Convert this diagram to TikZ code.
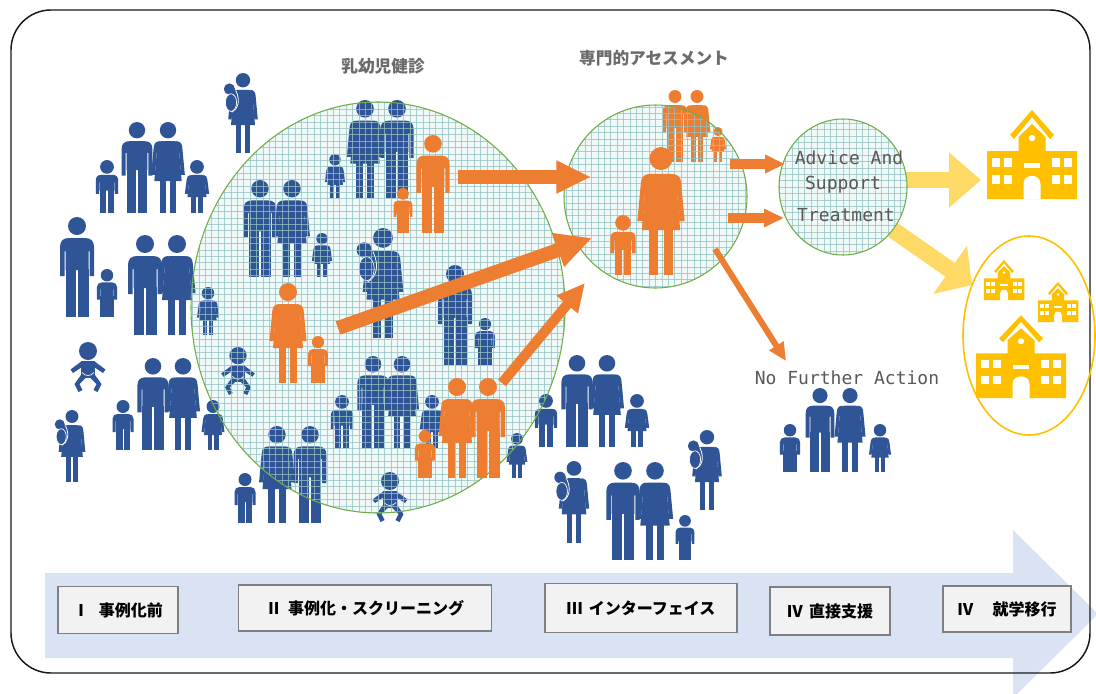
\documentclass[tikz,border=0pt]{standalone}
\usepackage{fontspec}
\usetikzlibrary{arrows.meta}
\newfontfamily\jpfont{Noto Sans CJK JP}
\newfontfamily\monofont{DejaVu Sans Mono}

\definecolor{figB}{HTML}{2F5597}
\definecolor{figO}{HTML}{ED7D31}
\definecolor{schoolY}{HTML}{FFC000}
\definecolor{arrowY}{HTML}{FFD966}
\definecolor{flowB}{HTML}{DAE3F3}
\definecolor{meshBg}{HTML}{F1F8F8}
\definecolor{meshLn}{HTML}{93C2C2}
\definecolor{ringG}{HTML}{70AD47}
\definecolor{boxF}{HTML}{F2F2F2}
\definecolor{boxD}{HTML}{7F7F7F}
\definecolor{txtG}{HTML}{595959}
\definecolor{lblG}{HTML}{6B6B6B}

% pictogram outlines: feet at the origin, 100 units tall, y grows downwards
\newcommand\manshape{%
  \fill (0,-91) circle (9);
  \fill (-17,-41) -- (-17,-70) .. controls (-17,-76) and (-14,-79) .. (-8,-79)
    -- (8,-79) .. controls (14,-79) and (17,-76) .. (17,-70) -- (17,-41)
    -- (12.5,-41) -- (12.5,-66) -- (11.5,-66) -- (11.5,-47) -- (-11.5,-47)
    -- (-11.5,-66) -- (-12.5,-66) -- (-12.5,-41) -- cycle;
  \fill (-11.5,-48) rectangle (-0.8,0);
  \fill (0.8,-48) rectangle (11.5,0);}
\newcommand\womanshape{%
  \fill (0,-91) circle (9);
  \fill (-7,-79) -- (7,-79) .. controls (10.5,-79) and (11.5,-77) .. (11.8,-73)
    -- (15,-35) -- (-15,-35) -- (-11.8,-73) .. controls (-11.5,-77) and (-10.5,-79) .. (-7,-79) -- cycle;
  \fill (-9,-79) .. controls (-14,-78.5) and (-15.5,-76) .. (-15.8,-71)
    -- (-18.5,-42) -- (-14.2,-42) -- (-12.4,-66) -- cycle;
  \fill (9,-79) .. controls (14,-78.5) and (15.5,-76) .. (15.8,-71)
    -- (18.5,-42) -- (14.2,-42) -- (12.4,-66) -- cycle;
  \fill (-9,-36) rectangle (-2,0);
  \fill (2,-36) rectangle (9,0);}
\newcommand\boyshape{%
  \fill (0,-87) circle (13);
  \fill (-21,-36) -- (-21,-62) .. controls (-21,-68) and (-17,-72) .. (-11,-72)
    -- (11,-72) .. controls (17,-72) and (21,-68) .. (21,-62) -- (21,-36)
    -- (15,-36) -- (15,-58) -- (14,-58) -- (14,-42) -- (-14,-42)
    -- (-14,-58) -- (-15,-58) -- (-15,-36) -- cycle;
  \fill (-14,-43) rectangle (-1,0);
  \fill (1,-43) rectangle (14,0);}
\newcommand\girlshape{%
  \fill (0,-87) circle (13);
  \fill (-9,-72) -- (9,-72) .. controls (13,-72) and (14,-70) .. (14.5,-65)
    -- (18,-30) -- (-18,-30) -- (-14.5,-65) .. controls (-14,-70) and (-13,-72) .. (-9,-72) -- cycle;
  \fill (-12,-72) .. controls (-17,-71) and (-19,-68) .. (-19.5,-63)
    -- (-23,-36) -- (-17.5,-36) -- (-15,-58) -- cycle;
  \fill (12,-72) .. controls (17,-71) and (19,-68) .. (19.5,-63)
    -- (23,-36) -- (17.5,-36) -- (15,-58) -- cycle;
  \fill (-11,-31) rectangle (-2,0);
  \fill (2,-31) rectangle (11,0);}
\newcommand\babyshape{%
  \fill (0,-82) circle (18);
  \fill (-14,-62) rectangle (14,-28);
  \fill (-12,-62) -- (-35,-45) -- (-30,-38) -- (-12,-50) -- cycle;
  \fill (12,-62) -- (35,-45) -- (30,-38) -- (12,-50) -- cycle;
  \fill (-14,-34) -- (-27,-16) -- (-19,0) -- (-11,-4) -- (-17,-16) -- (-5,-28) -- cycle;
  \fill (14,-34) -- (27,-16) -- (19,0) -- (11,-4) -- (17,-16) -- (5,-28) -- cycle;
  \draw[white, line width=0.5pt] (-12,-39) .. controls (-6,-31) and (6,-31) .. (12,-39);}
\newcommand\mombabyshape{%
  \womanshape
  \fill (-17,-80) circle (7);
  \filldraw[draw=white, line width=0.5pt] (-15,-63) ellipse (7 and 11);
  \draw[white, line width=0.6pt] (-9,-78) .. controls (-3,-66) and (-6,-55) .. (-14,-51);}
\newcommand\schoolshape{%
  \fill (-22,-64) -- (0,-89) -- (22,-64) -- (18,-60) -- (0,-82) -- (-18,-60) -- cycle;
  \fill (-45,0) -- (-45,-48) -- (-13.5,-48) -- (-13.5,-62) -- (0,-75) -- (13.5,-62)
    -- (13.5,-48) -- (45,-48) -- (45,0) -- cycle;
  \fill[white] (0,-61) circle (3.2);
  \fill[white] (-8,-36) rectangle (8,-31.5);
  \foreach \wx in {-40,-28,20,32}{%
    \fill[white] (\wx,-41) rectangle ++(8,9);
    \fill[white] (\wx,-24) rectangle ++(8,9);}
  \fill[white] (-8.5,0) -- (-8.5,-15) .. controls (-8.5,-26) and (8.5,-26) .. (8.5,-15) -- (8.5,0) -- cycle;}

% screening mesh inside an ellipse: centre x, centre y, radius x, radius y
\newcommand\meshgrid[4]{%
  \begin{scope}
    \clip (#1,#2) ellipse ({#3} and {#4});
    \foreach \gi in {-34,...,34}{%
      \draw[meshline] ({#1+6.4*\gi},{#2-#4-2}) -- ({#1+6.4*\gi},{#2+#4+2});
      \draw[meshline] ({#1-#3-2},{#2+6.4*\gi}) -- ({#1+#3+2},{#2+6.4*\gi});}
  \end{scope}}

\tikzset{
  man/.pic={\manshape},
  woman/.pic={\womanshape},
  boy/.pic={\boyshape},
  girl/.pic={\girlshape},
  baby/.pic={\babyshape},
  mombaby/.pic={\mombabyshape},
  school/.pic={\schoolshape},
}

\begin{document}
\begin{tikzpicture}[x=0.75pt, y=-0.75pt,
  bfig/.style={color=figB},
  ofig/.style={color=figO},
  sfig/.style={color=schoolY},
  meshline/.style={draw=meshLn, line width=0.45pt, opacity=0.75},
  ring/.style={draw=ringG, line width=0.8pt},
  oarrow/.style={draw=figO},
  yarrow/.style={draw=arrowY},
  stagebox/.style={draw=boxD, fill=boxF, line width=0.8pt, inner sep=0pt,
    font=\jpfont\bfseries\fontsize{12pt}{14pt}\selectfont},
  toplabel/.style={text=lblG, inner sep=0pt, font=\jpfont\bfseries\fontsize{12.5pt}{14pt}\selectfont},
  monolabel/.style={text=txtG, inner sep=0pt, font=\monofont\fontsize{13.5pt}{16pt}\selectfont},
]
\useasboundingbox (0,0) rectangle (1096,693);
\fill[white] (0,0) rectangle (1096,693);

% stage flow arrow
\fill[flowB] (45,573) -- (1013,573) -- (1013,530) -- (1098,614) -- (1013,698)
  -- (1013,658) -- (45,658) -- cycle;

% outer frame
\draw[line width=1.1pt, color=black!90, rounded corners=30pt] (11,10) rectangle (1090,673);

% stage boxes
\node[stagebox, minimum width=90pt, minimum height=35pt] (st1) at (118,610) {Ⅰ\hspace{0.6em}事例化前};
\node[stagebox, minimum width=190pt, minimum height=34.5pt] (st2) at (365,608) {Ⅱ\hspace{0.4em}事例化・スクリーニング};
\node[stagebox, minimum width=144pt, minimum height=37pt] (st3) at (641,608) {Ⅲ\hspace{0.4em}インターフェイス};
\node[stagebox, minimum width=90pt, minimum height=36pt] (st4) at (830,611) {Ⅳ\hspace{0.4em}直接支援};
\node[stagebox, minimum width=96pt, minimum height=34.5pt] (st5) at (1007,609) {Ⅳ\hspace{1.2em}就学移行};

% screening circles: background
\fill[meshBg] (378,307.5) ellipse (187 and 205.5);
\fill[meshBg] (655.5,196.5) ellipse (91.5 and 91.5);

% yellow arrows towards schooling
\coordinate (yA1) at (905,180);
\coordinate (yA2) at (981,180);
\coordinate (yB1) at (893,230);
\coordinate (yB2) at (972,285);
\draw[yarrow, line width=12.5pt, -{Triangle[length=24pt,width=40pt]}] (yA1) -- (yA2);
\draw[yarrow, line width=12.5pt, -{Triangle[length=20pt,width=43pt]}] (yB1) -- (yB2);

\fill[meshBg] (843,187) ellipse (64 and 68);

% families outside the check-up
\pic[bfig, scale=0.80] at (243,153) {mombaby};
\pic[bfig, scale=0.53] at (107,213) {boy};
\pic[bfig, scale=0.91] at (137,213) {man};
\pic[bfig, scale=0.91] at (168,213) {woman};
\pic[bfig, scale=0.53] at (197,213) {girl};
\pic[bfig, scale=1.00] at (77,317) {man};
\pic[bfig, scale=0.48] at (107,317) {boy};
\pic[bfig, scale=1.00] at (145,335) {man};
\pic[bfig, scale=1.00] at (177,335) {woman};
\pic[bfig, scale=0.48] at (208,335) {girl};
\pic[bfig, scale=0.50] at (88,392) {baby};
\pic[bfig, scale=0.50] at (123,450) {boy};
\pic[bfig, scale=0.92] at (153,450) {man};
\pic[bfig, scale=0.92] at (183,450) {woman};
\pic[bfig, scale=0.50] at (213,450) {girl};
\pic[bfig, scale=0.72] at (72,482) {mombaby};

% families inside the check-up
\pic[bfig, scale=0.44] at (335,198) {girl};
\pic[bfig, scale=0.98] at (365,198) {woman};
\pic[bfig, scale=0.98] at (397,198) {man};
\pic[bfig, scale=0.97] at (260,277) {man};
\pic[bfig, scale=0.97] at (292,277) {woman};
\pic[bfig, scale=0.44] at (322,277) {girl};
\pic[bfig, scale=1.10] at (383,338) {mombaby};
\pic[bfig, scale=1.00] at (455,365) {man};
\pic[bfig, scale=0.47] at (485,365) {boy};
\pic[bfig, scale=0.48] at (238,395) {baby};
\pic[bfig, scale=0.53] at (342,448) {boy};
\pic[bfig, scale=0.92] at (373,448) {man};
\pic[bfig, scale=0.92] at (402,448) {woman};
\pic[bfig, scale=0.53] at (432,448) {girl};
\pic[bfig, scale=0.45] at (517,478) {girl};
\pic[bfig, scale=0.50] at (245,523) {boy};
\pic[bfig, scale=0.97] at (277,523) {woman};
\pic[bfig, scale=0.97] at (310,523) {man};
\pic[bfig, scale=0.50] at (390,522) {baby};

% families below the assessment
\pic[bfig, scale=0.53] at (546,447) {boy};
\pic[bfig, scale=0.92] at (577,447) {man};
\pic[bfig, scale=0.92] at (607,447) {woman};
\pic[bfig, scale=0.53] at (637,447) {girl};
\pic[bfig, scale=0.82] at (574,543) {mombaby};
\pic[bfig, scale=0.98] at (623,560) {man};
\pic[bfig, scale=0.98] at (655,560) {woman};
\pic[bfig, scale=0.45] at (685,560) {boy};
\pic[bfig, scale=0.80] at (707,510) {mombaby};
\pic[bfig, scale=0.48] at (790,472) {boy};
\pic[bfig, scale=0.84] at (820,472) {man};
\pic[bfig, scale=0.84] at (850,472) {woman};
\pic[bfig, scale=0.48] at (880,472) {girl};

% family under assessment (behind the mesh)
\pic[ofig, scale=0.72] at (675,162) {man};
\pic[ofig, scale=0.72] at (697,162) {woman};
\pic[ofig, scale=0.35] at (718,162) {girl};

% mesh and rims
\meshgrid{378}{307.5}{187}{205.5}
\meshgrid{655.5}{196.5}{91.5}{91.5}
\meshgrid{843}{187}{64}{68}
\draw[ring] (378,307.5) ellipse (187 and 205.5);
\draw[ring] (655.5,196.5) ellipse (91.5 and 91.5);
\draw[ring] (843,187) ellipse (64 and 68);

% families picked up by the check-up
\pic[ofig, scale=0.98] at (433,233) {man};
\pic[ofig, scale=0.45] at (403,233) {boy};
\pic[ofig, scale=1.00] at (288,383) {woman};
\pic[ofig, scale=0.47] at (318,383) {boy};
\pic[ofig, scale=0.48] at (425,478) {boy};
\pic[ofig, scale=1.00] at (457,478) {woman};
\pic[ofig, scale=1.00] at (488,478) {man};
\pic[ofig, scale=1.28] at (661,275) {woman};
\pic[ofig, scale=0.60] at (623,275) {boy};

% referral arrows
\coordinate (r1s) at (458,177);
\coordinate (r1e) at (591,177);
\coordinate (r2s) at (338,328);
\coordinate (r2e) at (592,238);
\coordinate (r3s) at (502,383);
\coordinate (r3e) at (585,283);
\coordinate (s1s) at (730,164);
\coordinate (s1e) at (785,164);
\coordinate (s2s) at (728,218);
\coordinate (s2e) at (784,218);
\coordinate (n1s) at (715,249);
\coordinate (n1e) at (786,361);
\draw[oarrow, line width=10.5pt, -{Triangle[length=26pt,width=23pt]}] (r1s) -- (r1e);
\draw[oarrow, line width=10.5pt, -{Triangle[length=27pt,width=25pt]}] (r2s) -- (r2e);
\draw[oarrow, line width=7.5pt, -{Triangle[length=21pt,width=19.5pt]}] (r3s) -- (r3e);
\draw[oarrow, line width=6.8pt, -{Triangle[length=15pt,width=13pt]}] (s1s) -- (s1e);
\draw[oarrow, line width=6.8pt, -{Triangle[length=15pt,width=13pt]}] (s2s) -- (s2e);
\draw[oarrow, line width=4.5pt, -{Triangle[length=13.5pt,width=12pt]}] (n1s) -- (n1e);

% labels
\node[toplabel] (lblKen) at (383,66) {乳幼児健診};
\node[toplabel] (lblAss) at (654,58) {専門的アセスメント};
\node[monolabel] (adv1) at (849,158) {Advice And};
\node[monolabel] (adv2) at (843,185) {Support};
\node[monolabel] (adv3) at (846,215) {Treatment};
\node[monolabel] (nfa) at (847,378) {No Further Action};

% schools
\pic[sfig, scale=1.00] at (1032,199) {school};
\draw[schoolY, line width=1.2pt] (1029,335.5) ellipse (66 and 99.5);
\pic[sfig, scale=0.45] at (1004,300) {school};
\pic[sfig, scale=0.45] at (1058,322) {school};
\pic[sfig, xscale=1.0, yscale=0.93] at (1021,398) {school};
\end{tikzpicture}
\end{document}
